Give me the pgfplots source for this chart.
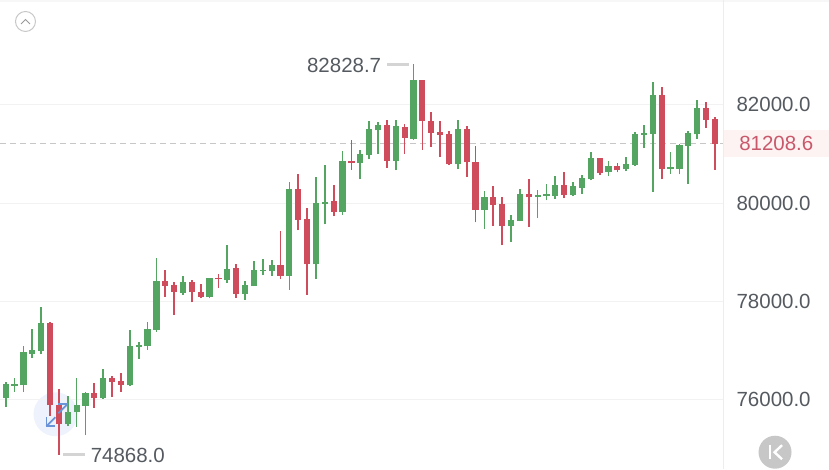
\documentclass[border=0pt]{standalone}
\usepackage{pgfplots}
\usepackage{pgfplotstable}
\usepackage{fontspec}
\setmainfont{Liberation Sans}
\pgfplotsset{compat=1.18}
\definecolor{cg}{HTML}{55A562}
\definecolor{cr}{HTML}{CF4C5C}
\definecolor{lbl}{HTML}{555A60}
\definecolor{iconbg}{HTML}{EEF2FC}
\definecolor{iconfg}{HTML}{6A93D8}
\definecolor{pband}{HTML}{FCF3F2}
\definecolor{ptext}{HTML}{C9586B}
\pgfplotstableread{
i high top bot low
1 76352 76306 76026 75843
2 76442 76312 76279 76149
3 77094 76964 76285 76143
4 77432 77012 76931 76849
5 77880 77562 76984 76917
8 76061 75741 75491 75450
9 76442 75892 75735 75436
10 76143 76136 75872 75267
12 76625 76428 76020 76010
15 77420 77086 76285 76265
16 77167 77106 77065 76829
17 77583 77440 77080 77012
18 78886 78404 77420 77371
21 78506 78389 78173 78125
24 78465 78465 78084 78057
26 79143 78662 78424 78369
28 78410 78322 78153 78031
29 78811 78628 78308 78302
30 78852 78642 78607 78526
31 78831 78744 78613 78520
33 80426 80292 78520 78235
36 80528 79993 78750 78451
37 80773 80027 79986 79565
39 81058 80854 79815 79762
41 81072 80991 80813 80481
42 81663 81514 80970 80889
43 81649 81588 81480 81005
45 81683 81561 80854 80665
47 82828.7 82498 81310 81290
52 81683 81500 80787 80691
55 80243 80115 79856 79463
58 79748 79646 79530 79204
59 80292 80190 79626 79626
61 80272 80170 80121 79693
62 80380 80176 80149 80054
63 80543 80359 80141 80088
65 80435 80339 80170 80135
66 80569 80502 80304 80190
67 81046 80915 80481 80461
69 80854 80746 80630 80543
71 80936 80793 80685 80650
72 81439 81412 80773 80752
73 81588 81418 81392 81113
74 82463 82199 81404 80231
76 81038 80726 80691 80597
77 81194 81180 80699 80583
78 81459 81433 81168 80394
79 82105 81942 81398 81302
}\greencandles
\pgfplotstableread{
i high top bot low
6 77568 77562 75878 75660
7 76218 75892 75505 74868
11 76332 76136 76020 75831
13 76469 76442 76352 76047
14 76536 76373 76291 76149
19 78642 78410 78308 78084
20 78389 78322 78186 77717
22 78424 78398 78180 77976
23 78357 78186 78084 78057
25 78561 78479 78444 78275
27 78750 78668 78153 78072
32 79428 78744 78520 78444
34 80597 80292 79660 79443
35 79897 79681 78750 78125
38 80373 80039 79823 79728
40 81290 80848 80813 80679
44 81683 81581 80854 80720
46 81602 81551 81331 81005
48 82512 82508 81669 81086
49 81860 81677 81425 81139
50 81669 81439 81392 80936
51 81465 81412 80787 80773
53 81575 81500 80828 80528
54 81160 80842 79856 79605
56 80339 80115 79966 79530
57 80115 79986 79530 79137
60 80481 80190 80115 79510
64 80638 80359 80170 80094
68 80915 80909 80610 80577
70 80813 80760 80665 80624
75 82362 82192 80691 80481
80 82064 81942 81689 81526
81 81750 81718 81208.6 80671
}\redcandles
\pgfplotsset{
 wick/.style={forget plot,draw=none,mark=none,error bars/.cd,y dir=plus,y explicit,error mark=none,error bar style={draw=#1,line width=1.7pt}},
 body/.style={forget plot,draw=none,mark=none,error bars/.cd,y dir=plus,y explicit,error mark=none,error bar style={draw=#1,line width=6.2pt}},
}
\newcommand{\px}[2]{(#1pt,{469pt-#2pt})}
\begin{document}
\begin{tikzpicture}
\path \px{0}{0} rectangle \px{829}{469};
\fill[black!3] \px{0}{0} rectangle \px{829}{1.5};
% expand-icon backdrop lies beneath the candles
\fill[iconbg] \px{55}{414} circle (22pt);
\begin{axis}[
 at={(0pt,0pt)},anchor=south west,scale only axis,width=723pt,height=469pt,
 xmin=0.414,xmax=81.92,ymin=74574,ymax=84128,
 clip=false,
 hide x axis,
 axis y line*=right,
 y axis line style={draw=black!7,line width=1pt,-},
 ytick={76000,78000,80000,82000},
 scaled y ticks=false,
 yticklabel style={font=\fontsize{20.5}{22}\selectfont,text=lbl,xshift=10pt,
   /pgf/number format/fixed,/pgf/number format/fixed zerofill,/pgf/number format/precision=1,/pgf/number format/1000 sep={},/pgf/number format/assume math mode=true},
 major tick length=0pt,
 ymajorgrids,
 grid style={draw=black!5,line width=0.8pt},
]
\fill[pband] (axis cs:81.97,80935) rectangle (axis cs:93.87,81485);
\addplot[draw=black!22,line width=1pt,dash pattern=on 6pt off 4pt,forget plot] coordinates {(0.414,81208.6) (81.92,81208.6)};
\addplot[wick=cg] table[x=i,y=low,y error plus expr=\thisrow{high}-\thisrow{low},y error minus expr=0] {\greencandles};
\addplot[wick=cr] table[x=i,y=low,y error plus expr=\thisrow{high}-\thisrow{low},y error minus expr=0] {\redcandles};
\addplot[body=cg] table[x=i,y=bot,y error plus expr=\thisrow{top}-\thisrow{bot},y error minus expr=0] {\greencandles};
\addplot[body=cr] table[x=i,y=bot,y error plus expr=\thisrow{top}-\thisrow{bot},y error minus expr=0] {\redcandles};
\addplot[draw=black!17,line width=3pt,forget plot] coordinates {(44.05,82828.7) (46.5,82828.7)};
\addplot[draw=black!17,line width=3pt,forget plot] coordinates {(7.5,74868) (10,74868)};
\node[anchor=east,font=\fontsize{20.5}{22}\selectfont,text=lbl] at (axis cs:43.75,82810) {82828.7};
\node[anchor=west,font=\fontsize{20.5}{22}\selectfont,text=lbl] at (axis cs:10.2,74850) {74868.0};
\node[anchor=west,font=\fontsize{20.5}{22}\selectfont,text=ptext] at (axis cs:83.35,81205) {81208.6};
\end{axis}
% up chevron button
\draw[black!22,line width=1pt] \px{25}{21} circle (10pt);
\draw[black!40,line width=0.9pt] \px{20.5}{23.5} -- \px{25}{19} -- \px{29.5}{23.5};
% expand icon
\draw[iconfg,line width=1.8pt] \px{46}{417} -- \px{46}{426} -- \px{55}{426};
\draw[iconfg,line width=1.8pt] \px{46}{426} -- \px{55}{417};
\draw[iconfg,line width=1.8pt] \px{58}{404} -- \px{67}{404} -- \px{67}{413};
\draw[iconfg,line width=1.8pt] \px{67}{404} -- \px{58}{413};
% K button
\fill[black!22] \px{775}{452} circle (16.5pt);
\draw[white,line width=2.4pt] \px{770}{445} -- \px{770}{459};
\draw[white,line width=2.4pt] \px{782}{445} -- \px{774.5}{452} -- \px{782}{459};
\end{tikzpicture}
\end{document}
